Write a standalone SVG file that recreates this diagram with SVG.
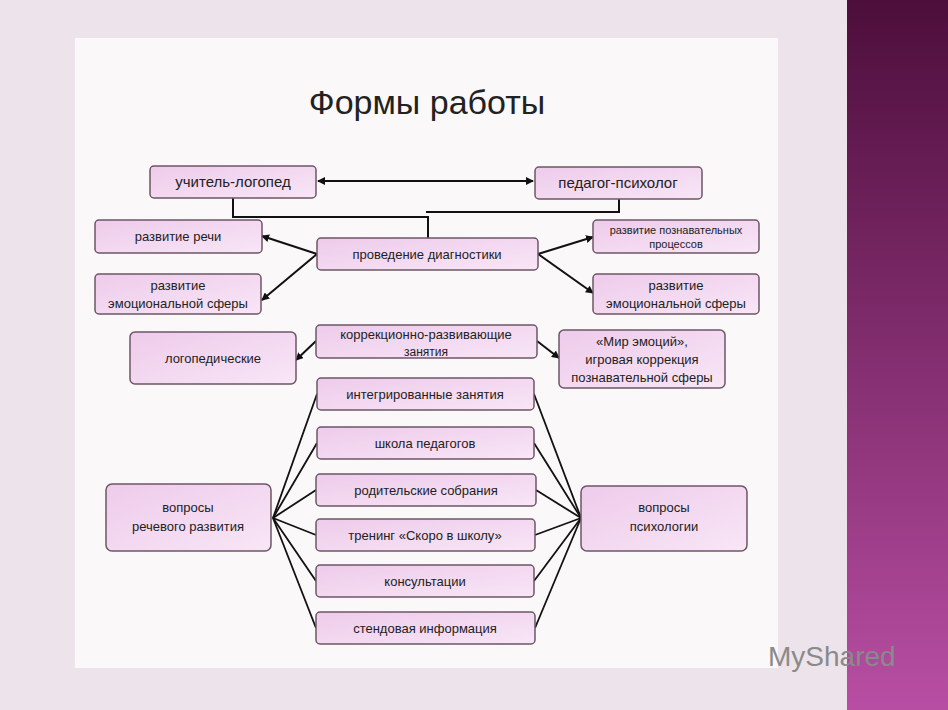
<svg xmlns="http://www.w3.org/2000/svg" width="948" height="710" viewBox="0 0 948 710">
<defs>
<linearGradient id="bg" x1="0" y1="0" x2="0" y2="1"><stop offset="0" stop-color="#4d0e3b"/><stop offset="1" stop-color="#b84ea3"/></linearGradient>
<linearGradient id="box" x1="0" y1="0" x2="1" y2="1"><stop offset="0" stop-color="#eecbeb"/><stop offset="1" stop-color="#f8e6f6"/></linearGradient>
<marker id="a" markerWidth="8" markerHeight="8" refX="7" refY="4" orient="auto" markerUnits="userSpaceOnUse"><path d="M0,0 L8,4 L0,8 z" fill="#111"/></marker>
<marker id="as" markerWidth="8" markerHeight="8" refX="1" refY="4" orient="auto" markerUnits="userSpaceOnUse"><path d="M8,0 L0,4 L8,8 z" fill="#111"/></marker>
<style>
.b{fill:url(#box);stroke:#6d5566;stroke-width:1.5}
.t{font-family:"Liberation Sans",Arial,sans-serif;font-size:13px;fill:#222;text-anchor:middle}
.c{stroke:#111;stroke-width:2;fill:none}
</style>
</defs>
<rect width="948" height="710" fill="#ede3ea"/>
<rect x="847" y="0" width="101" height="710" fill="url(#bg)"/>
<rect x="75" y="38" width="703" height="630" fill="#fbf8fa"/>
<text x="427" y="114" style="font-family:'Liberation Sans',Arial,sans-serif;font-size:34px;fill:#222;text-anchor:middle">Формы работы</text>
<g id="connectors">
<line class="c" x1="318" y1="181" x2="533" y2="181" marker-start="url(#as)" marker-end="url(#a)"/>
<polyline class="c" points="233,198 233,217 428,217 428,238"/>
<polyline class="c" points="619,199 619,212 426,212"/>
<line class="c" x1="317" y1="254" x2="262" y2="236" marker-end="url(#a)"/>
<line class="c" x1="317" y1="254" x2="262" y2="300" marker-end="url(#a)"/>
<line class="c" x1="538" y1="254" x2="593" y2="237" marker-end="url(#a)"/>
<line class="c" x1="538" y1="254" x2="593" y2="293" marker-end="url(#a)"/>
<line class="c" x1="316" y1="341" x2="296" y2="360" marker-end="url(#a)"/>
<line class="c" x1="537" y1="341" x2="559" y2="358" marker-end="url(#a)"/>
<g stroke="#111" stroke-width="1.8">
<line x1="317" y1="394" x2="273" y2="518"/><line x1="317" y1="443" x2="273" y2="518"/>
<line x1="316" y1="490" x2="273" y2="518"/><line x1="316" y1="535" x2="273" y2="518"/>
<line x1="316" y1="581" x2="273" y2="518"/><line x1="316" y1="628" x2="273" y2="518"/>
<line x1="534" y1="394" x2="581" y2="518"/><line x1="534" y1="443" x2="581" y2="518"/>
<line x1="536" y1="490" x2="581" y2="518"/><line x1="535" y1="535" x2="581" y2="518"/>
<line x1="534" y1="581" x2="581" y2="518"/><line x1="535" y1="628" x2="581" y2="518"/>
</g>
</g>
<g id="n1"><rect class="b" x="150" y="166" width="166" height="32" rx="4"/><text class="t" x="233" y="187" style="font-size:15px">учитель-логопед</text></g>
<g id="n2"><rect class="b" x="535" y="167" width="167" height="32" rx="4"/><text class="t" x="618" y="188" style="font-size:15px">педагог-психолог</text></g>
<g id="n3"><rect class="b" x="95" y="220" width="167" height="33" rx="4"/><text class="t" x="178" y="241">развитие речи</text></g>
<g id="n4"><rect class="b" x="317" y="238" width="221" height="32" rx="4"/><text class="t" x="427" y="259">проведение диагностики</text></g>
<g id="n5"><rect class="b" x="593" y="220" width="166" height="33" rx="4"/><text class="t" x="676" y="234" style="font-size:11px">развитие познавательных</text><text class="t" x="676" y="248" style="font-size:11px">процессов</text></g>
<g id="n6"><rect class="b" x="95" y="274" width="166" height="40" rx="4"/><text class="t" x="178" y="290">развитие</text><text class="t" x="178" y="308">эмоциональной сферы</text></g>
<g id="n7"><rect class="b" x="593" y="274" width="166" height="40" rx="4"/><text class="t" x="676" y="290">развитие</text><text class="t" x="676" y="308">эмоциональной сферы</text></g>
<g id="n8"><rect class="b" x="316" y="325" width="221" height="33" rx="4"/><text class="t" x="426" y="339">коррекционно-развивающие</text><text class="t" x="426" y="356" style="font-size:12px">занятия</text></g>
<g id="n9"><rect class="b" x="130" y="332" width="166" height="52" rx="5"/><text class="t" x="213" y="363">логопедические</text></g>
<g id="n10"><rect class="b" x="559" y="330" width="166" height="58" rx="5"/><text class="t" x="642" y="346">«Мир эмоций»,</text><text class="t" x="642" y="364">игровая коррекция</text><text class="t" x="642" y="382">познавательной сферы</text></g>
<g id="n11"><rect class="b" x="317" y="378" width="217" height="32" rx="4"/><text class="t" x="425" y="399">интегрированные занятия</text></g>
<g id="n12"><rect class="b" x="317" y="427" width="217" height="32" rx="4"/><text class="t" x="425" y="448">школа педагогов</text></g>
<g id="n13"><rect class="b" x="316" y="474" width="220" height="32" rx="4"/><text class="t" x="426" y="495">родительские собрания</text></g>
<g id="n14"><rect class="b" x="316" y="519" width="219" height="32" rx="4"/><text class="t" x="425" y="540">тренинг «Скоро в школу»</text></g>
<g id="n15"><rect class="b" x="316" y="565" width="218" height="32" rx="4"/><text class="t" x="425" y="586">консультации</text></g>
<g id="n16"><rect class="b" x="316" y="612" width="219" height="32" rx="4"/><text class="t" x="425" y="633">стендовая информация</text></g>
<g id="n17"><rect class="b" x="106" y="484" width="165" height="67" rx="6"/><text class="t" x="188" y="512">вопросы</text><text class="t" x="188" y="531">речевого развития</text></g>
<g id="n18"><rect class="b" x="581" y="486" width="166" height="65" rx="6"/><text class="t" x="664" y="512">вопросы</text><text class="t" x="664" y="531">психологии</text></g>
<text x="768" y="666" style="font-family:'Liberation Sans',Arial,sans-serif;font-size:28px;fill:#8a8a8a">MyShared</text>
</svg>
